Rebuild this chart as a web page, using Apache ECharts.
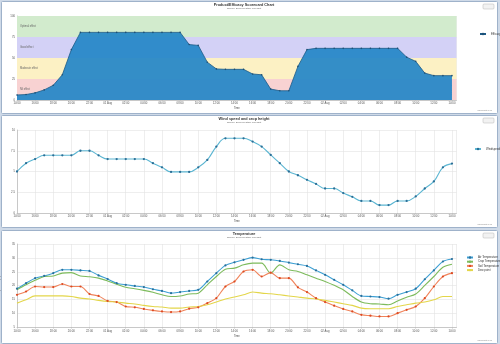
<!DOCTYPE html>
<html><head><meta charset="utf-8">
<script src="https://cdn.jsdelivr.net/npm/echarts@6/dist/echarts.min.js"></script>
<style>html,body{margin:0;padding:0;background:#cfdae8}#c{width:500px;height:344px}</style>
</head><body><div id="c"></div>
<script>
// ---- data ----
const hours = ["14:00","15:00","16:00","17:00","18:00","19:00","20:00","21:00","22:00","23:00",
  "01 Aug","01:00","02:00","03:00","04:00","05:00","06:00","07:00","08:00","09:00","10:00","11:00",
  "12:00","13:00","14:00","15:00","16:00","17:00","18:00","19:00","20:00","21:00","22:00","23:00",
  "02 Aug","01:00","02:00","03:00","04:00","05:00","06:00","07:00","08:00","09:00","10:00","11:00",
  "12:00","13:00","14:00"];
const efficacy = [6,6.5,8.5,12,17.5,30,60,80.5,80.5,80.5,80.5,80.5,80.5,80.5,80.5,80.5,80.5,80.5,80.5,
  66,65,45,37,36.5,36.5,36.5,31,30,13,11,11,40,60,61.5,61.5,61.5,61.5,61.5,61.5,61.5,61.5,61.5,61.5,
  51,46,32,29,29,29];
const windspeed = [5.0,6.0,6.5,6.95,6.95,6.95,6.95,7.5,7.5,6.95,6.5,6.5,6.5,6.5,6.5,6.0,5.5,4.95,4.95,4.95,
  5.5,6.4,8.0,9.0,9.0,9.0,8.6,8.0,7.0,6.0,5.0,4.55,4.0,3.5,2.95,2.95,2.4,1.95,1.45,1.45,0.95,0.95,1.45,1.45,
  2.0,2.95,3.8,5.5,5.95];
const airTemp = [18.9,20.9,22.7,23.5,24.5,25.7,25.7,25.5,25.3,23.7,22.4,20.9,20.3,19.9,19.5,18.7,18.1,17.3,17.7,18.1,
  18.5,21.5,24.5,27.3,28.4,29.3,30.1,29.5,29.3,28.9,28.3,27.7,27.1,25.5,23.9,22.1,20.3,18.3,16.3,16.1,
  15.9,15.3,16.7,17.7,18.9,22.3,25.5,28.7,29.6];
const cropTemp = [18.5,20.3,21.9,23.3,23.5,24.5,24.7,23.5,23.2,22.7,21.7,20.5,19.4,18.9,18.3,17.6,16.7,16.1,16.3,17.0,
  17.3,20.3,23.3,25.9,26.3,27.5,28.1,28.1,24.5,27.5,25.7,25.1,23.9,22.7,21.5,20.1,18.5,16.1,14.1,13.5,
  13.4,13.1,14.5,15.8,17.0,20.1,23.3,26.6,27.7];
const soilTemp = [16.7,17.9,19.7,19.5,19.5,20.6,19.7,19.7,17.0,16.3,14.5,14.1,12.5,12.2,11.6,11.1,10.7,10.5,10.7,11.7,
  12.2,13.7,15.5,19.7,21.5,25.1,25.7,23.3,24.7,22.7,22.7,19.4,17.7,15.5,14.1,12.8,11.6,10.7,9.5,9.2,
  8.9,8.9,10.1,11.3,12.5,15.5,19.7,23.3,24.5];
const dewPoint = [13.7,14.9,16.3,16.3,16.3,16.3,16.1,15.5,15.2,14.7,14.3,14.1,13.7,13.4,12.9,12.5,12.3,11.9,11.9,12.3,
  12.5,13.1,14.1,15.2,15.9,16.7,17.7,17.3,17.1,16.7,16.3,15.9,15.5,15.2,14.7,14.1,13.5,12.9,11.9,11.7,
  11.7,11.7,12.5,13.1,13.7,14.1,14.9,16.1,16.1];
const bandNames = ["Nil effect","Moderate effect","Good effect","Optimal effect"];
const bandFrom = [0,25,50,75];
const bandTo = [25,50,75,100];
const bandColors = ["#f8d2d2","#fcf1c4","#d3d1f6","#d2ebcd"];
const titles = ["Product/Efficacy Scorecard Chart","Wind speed and crop height","Temperature"];
const subtitle = "Source: SprayWeather Forecast";
const yNames = ["Efficacy (percentage)","Wind speed (m/s)","Temperature (°C)"];
const tempNames = ["Air Temperature","Crop Temperature","Soil Temperature","Dew point"];

// ---- chart ----
const chart = echarts.init(document.getElementById('c'), null, {renderer:'canvas'});
const pts = arr => arr.map((v,i)=>[i,v]);
const gridTops = [16,130,244], gridH = [84,83,83.3];
const grids = gridTops.map((t,k)=>({left:17,right:43.5,top:t,height:gridH[k],
  containLabel:false, outerBoundsMode:'none'}));
const xAxes = [0,1,2].map(k=>({
  type:'value', gridIndex:k, min:0, max:48.5, interval:2,
  name:'Time', nameLocation:'middle', nameGap:7, nameTextStyle:{fontSize:2.6,color:'#444'},
  axisLine:{lineStyle:{color:'#b8b8b8',width:0.7}},
  axisTick:{length:1.5,lineStyle:{color:'#b8b8b8',width:0.5}},
  splitLine:{show:true,lineStyle:{color:'#e2e2e2',width:0.6}},
  axisLabel:{fontSize:2.8,color:'#555',margin:2,showMaxLabel:false,hideOverlap:false,
    formatter:v=>Number.isInteger(v)?hours[v]:''}
}));
const yCfg = [{min:0,max:100,interval:25},{min:0,max:10,interval:2.5},{min:5,max:35,interval:5}];
const yAxes = [0,1,2].map(k=>Object.assign({
  type:'value', gridIndex:k,
  name:yNames[k], nameLocation:'middle', nameGap:9, nameRotate:90,
  nameTextStyle:{fontSize:2.6,color:'#444'},
  axisLine:{show:true,lineStyle:{color:'#b8b8b8',width:0.7}},
  axisTick:{show:false},
  splitLine:{show:true,lineStyle:{color:'#e2e2e2',width:0.6}},
  axisLabel:{fontSize:2.8,color:'#555',margin:2}
},yCfg[k]));

const bandData = bandNames.map((n,i)=>[
  {name:n, yAxis:bandFrom[i], itemStyle:{color:bandColors[i]}},
  {yAxis:bandTo[i]}
]);

const series = [
  {type:'line', name:'bands', xAxisIndex:0, yAxisIndex:0, data:[], z:1,
   markArea:{silent:true, data:bandData,
     label:{show:true, position:'insideLeft', fontSize:2.6, color:'#666', distance:3}}},
  {type:'line', name:'Efficacy', xAxisIndex:0, yAxisIndex:0, data:pts(efficacy), z:3,
   symbol:'circle', symbolSize:1.6, showSymbol:true,
   lineStyle:{color:'#1d5a86',width:0.8}, itemStyle:{color:'#1d4f74'},
   areaStyle:{color:'#2385c7',opacity:0.92}},
  {type:'line', name:'Windspeed', xAxisIndex:1, yAxisIndex:1, data:pts(windspeed), smooth:0.4,
   symbol:'circle', symbolSize:2.3, lineStyle:{color:'#5cb6d2',width:1.1}, itemStyle:{color:'#2b6e96'}},
  {type:'line', name:tempNames[0], xAxisIndex:2, yAxisIndex:2, data:pts(airTemp), smooth:0.3,
   symbol:'circle', symbolSize:2.2, lineStyle:{color:'#3c9fd3',width:1.1}, itemStyle:{color:'#2a6f9b'}},
  {type:'line', name:tempNames[1], xAxisIndex:2, yAxisIndex:2, data:pts(cropTemp), smooth:0.3,
   showSymbol:false, symbol:'circle', lineStyle:{color:'#7dbb5c',width:1.1}, itemStyle:{color:'#7dbb5c'}},
  {type:'line', name:tempNames[2], xAxisIndex:2, yAxisIndex:2, data:pts(soilTemp), smooth:0.3,
   symbol:'circle', symbolSize:2.2, lineStyle:{color:'#f0835a',width:1.1}, itemStyle:{color:'#dd4a22'}},
  {type:'line', name:tempNames[3], xAxisIndex:2, yAxisIndex:2, data:pts(dewPoint), smooth:0.3,
   showSymbol:false, symbol:'circle', lineStyle:{color:'#e3d64a',width:1.1}, itemStyle:{color:'#e3d64a'}}
];

const titleTops = [2.5,116.5,231.5];
const title = titles.map((t,k)=>({
  text:t, subtext:subtitle, left:244, textAlign:'center', top:titleTops[k], itemGap:1, padding:0,
  textStyle:{fontSize:3.8,fontWeight:'bold',color:'#333'},
  subtextStyle:{fontSize:2.4,color:'#666'}
}));

const legStyle = {orient:'vertical', itemWidth:6, itemHeight:3, itemGap:1.2, padding:0,
  textStyle:{fontSize:2.8,color:'#333'}};
const legend = [
  Object.assign({data:['Efficacy'], left:479, top:32.5},legStyle),
  Object.assign({data:['Windspeed'], left:474, top:147.5},legStyle),
  Object.assign({data:tempNames, left:466, top:256},legStyle)
];

const panelTops = [1,115,230], panelH = [112,112,113];
const graphic = [];
panelTops.forEach((t,k)=>{
  graphic.push({type:'rect', z:-100, shape:{x:1.5,y:t+0.5,width:496,height:panelH[k],r:1},
    style:{fill:'#ffffff',stroke:'#9fb2ca',lineWidth:1}});
  graphic.push({type:'rect', z:-90, shape:{x:483,y:t+3,width:11,height:5,r:1},
    style:{fill:'#f2f2f2',stroke:'#b5b5b5',lineWidth:0.5}});
  graphic.push({type:'text', z:-80, left:477, top:t+panelH[k]-3.5,
    style:{text:'Highcharts.com',fontSize:2.2,fill:'#909090'}});
});

chart.setOption({
  animation:false, backgroundColor:'transparent',
  title, legend, grid:grids, xAxis:xAxes, yAxis:yAxes, series, graphic
});
</script></body></html>
